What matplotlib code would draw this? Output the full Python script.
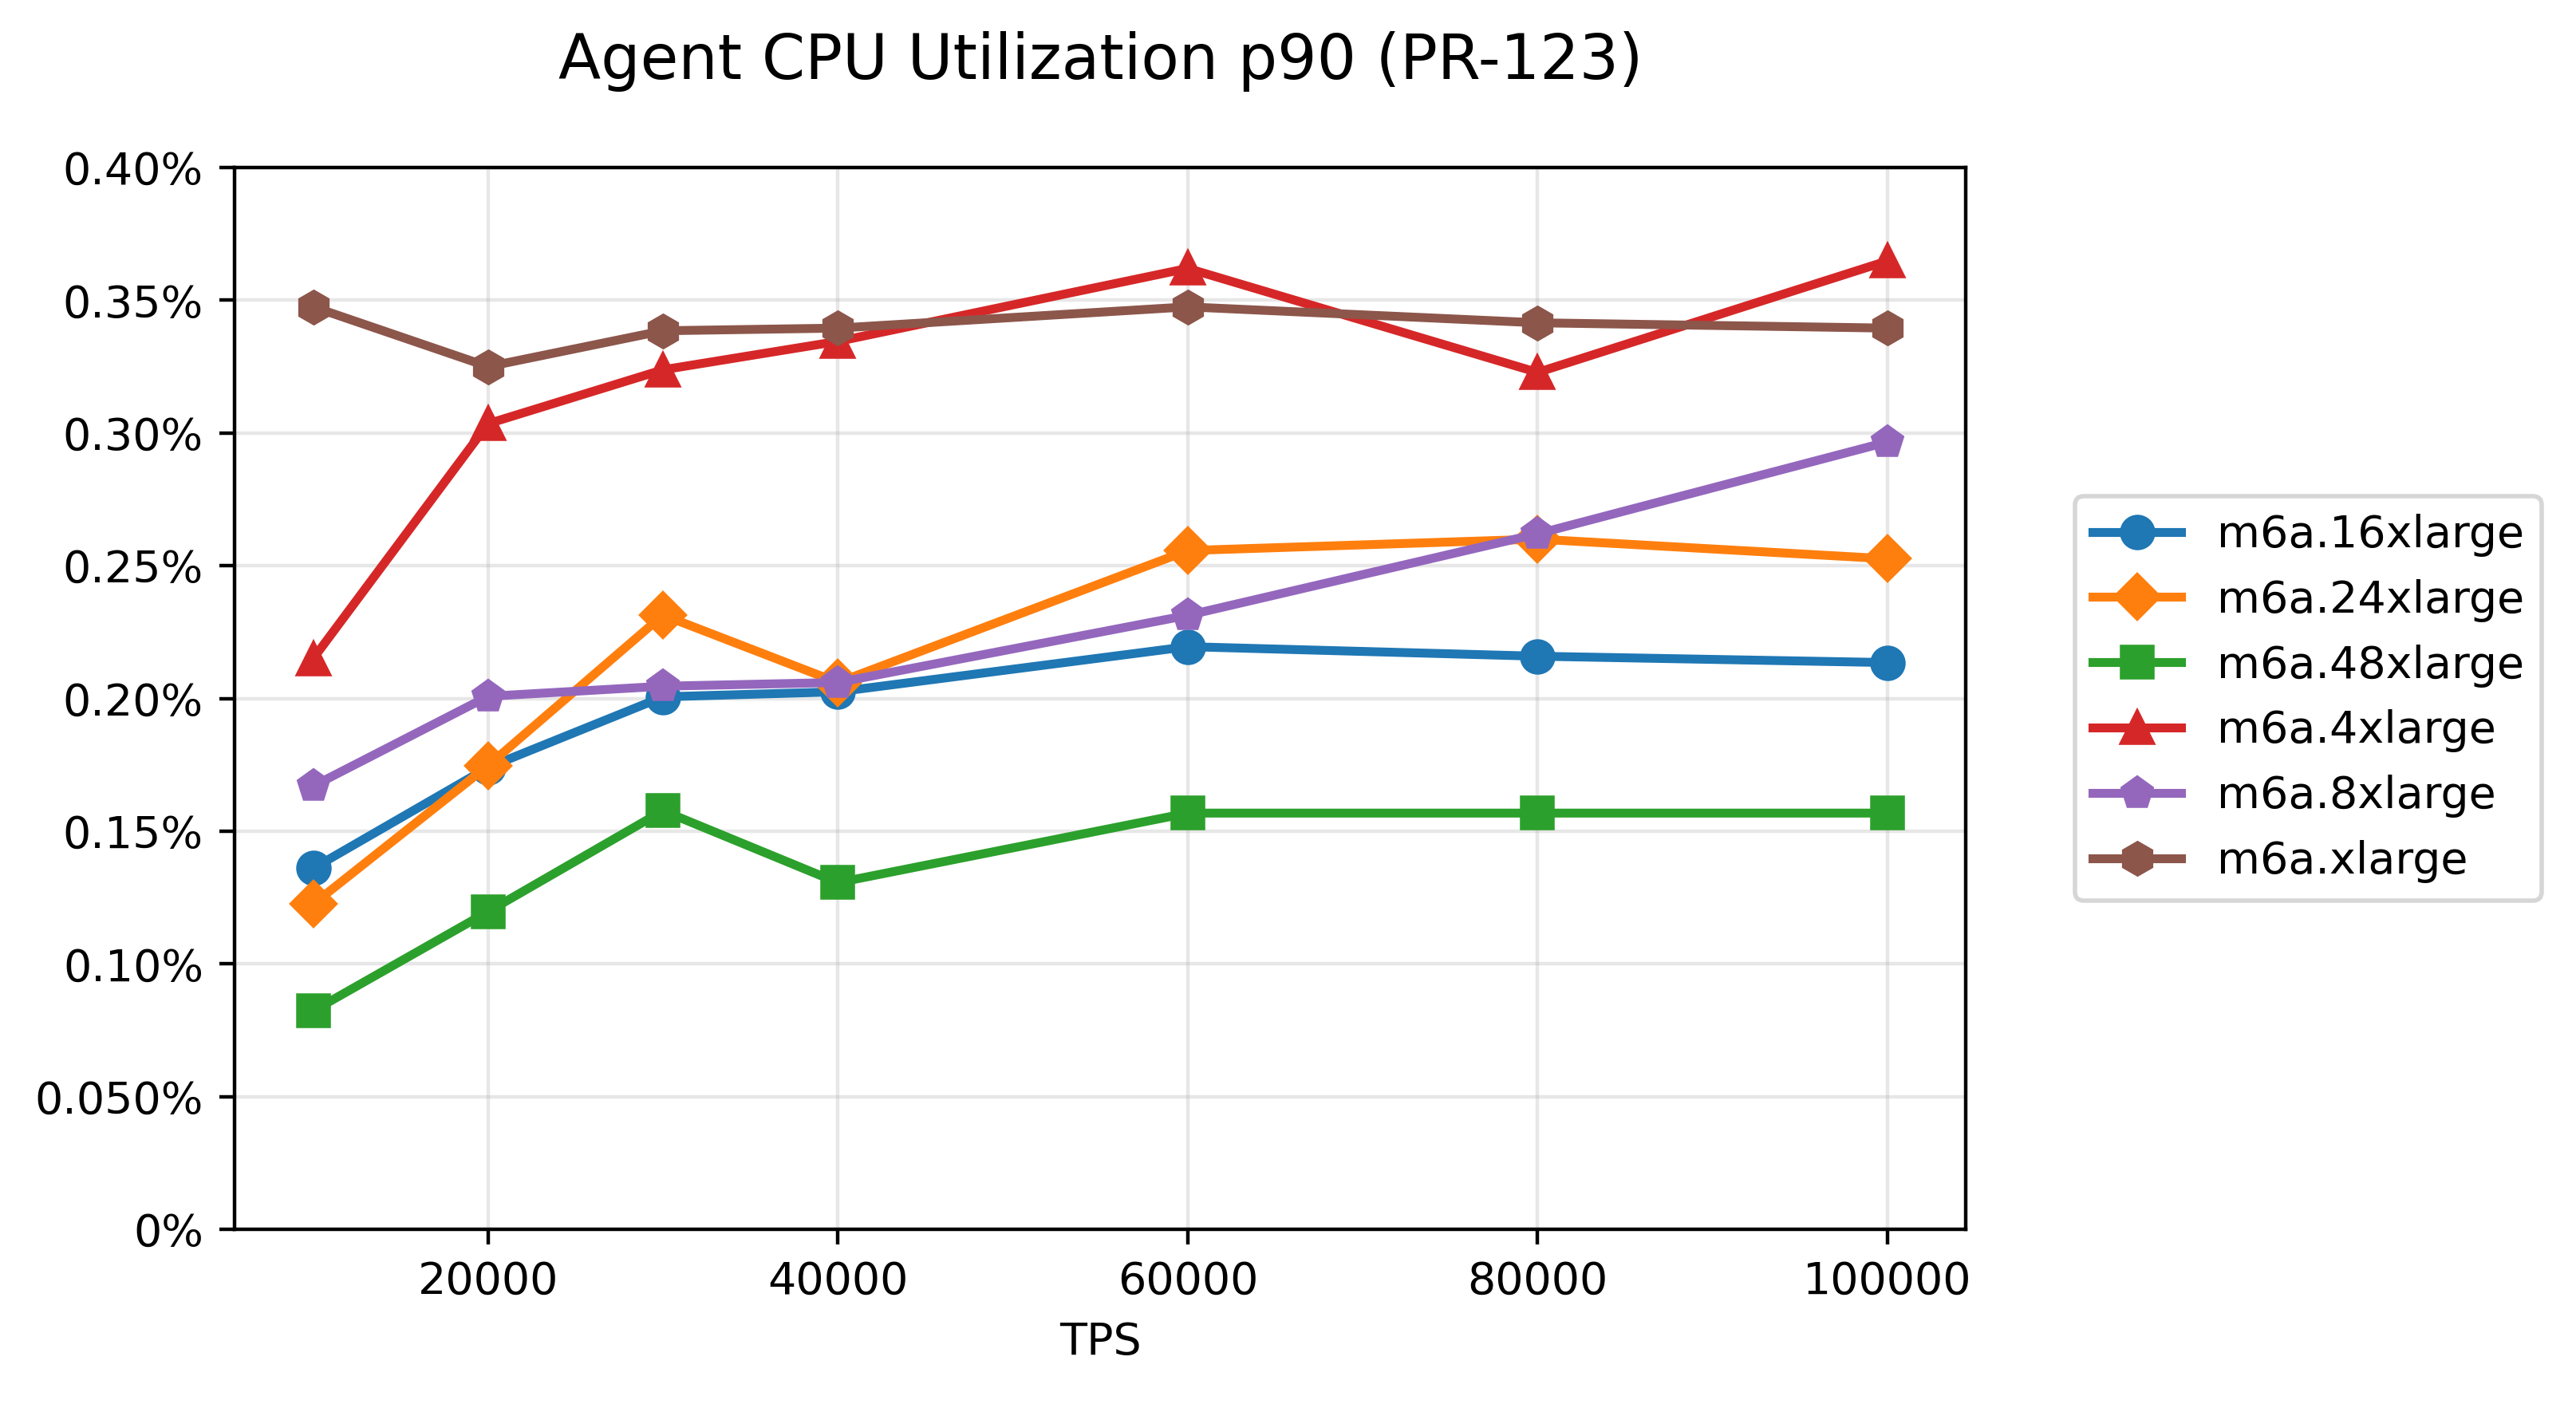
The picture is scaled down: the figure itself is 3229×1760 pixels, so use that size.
import numpy as np
import matplotlib
matplotlib.use('Agg')
import matplotlib.pyplot as plt

# TPS levels used in the runs
tps = [10000, 20000, 30000, 40000, 60000, 80000, 100000]

# p90 CPU utilisation in percent, one list per instance type
cpu_16xlarge = [0.136, 0.174, 0.2006, 0.2025, 0.2195, 0.2159, 0.2135]
cpu_24xlarge = [0.1225, 0.1747, 0.2314, 0.206, 0.2557, 0.260, 0.2526]
cpu_48xlarge = [0.0823, 0.1197, 0.1577, 0.1306, 0.1568, 0.1568, 0.1568]
cpu_4xlarge = [0.2150, 0.3035, 0.3238, 0.3345, 0.3620, 0.3228, 0.3648]
cpu_8xlarge = [0.1670, 0.2008, 0.2046, 0.2060, 0.2313, 0.2620, 0.2966]
cpu_xlarge = [0.3475, 0.3250, 0.3385, 0.3395, 0.3475, 0.3415, 0.3395]

names = ['m6a.16xlarge', 'm6a.24xlarge', 'm6a.48xlarge',
         'm6a.4xlarge', 'm6a.8xlarge', 'm6a.xlarge']
series = [cpu_16xlarge, cpu_24xlarge, cpu_48xlarge,
          cpu_4xlarge, cpu_8xlarge, cpu_xlarge]
markers = ['o', 'D', 's', '^', 'p', 'h']

y_ticks = [0, 0.05, 0.10, 0.15, 0.20, 0.25, 0.30, 0.35, 0.40]
y_tick_labels = ['0%', '0.050%', '0.10%', '0.15%', '0.20%',
                 '0.25%', '0.30%', '0.35%', '0.40%']

fig = plt.figure(figsize=(8.075, 4.4), dpi=400)
ax = fig.add_subplot(111)
fig.subplots_adjust(left=0.091, right=0.763, bottom=0.1244, top=0.8807)

for i in range(len(names)):
    ax.plot(tps, series[i], marker=markers[i], color='C%d' % i,
            lw=2, markersize=7, label=names[i])

ax.set_ylim(0, 0.40)
ax.set_yticks(y_ticks)
ax.set_yticklabels(y_tick_labels)
ax.grid(True, alpha=0.3)

ax.set_title('Agent CPU Utilization p90 (PR-123)', fontsize=14, pad=20)
ax.set_xlabel('TPS')
ax.legend(loc='center left', bbox_to_anchor=(1.05, 0.5))

fig.savefig('out.png', dpi=400)
